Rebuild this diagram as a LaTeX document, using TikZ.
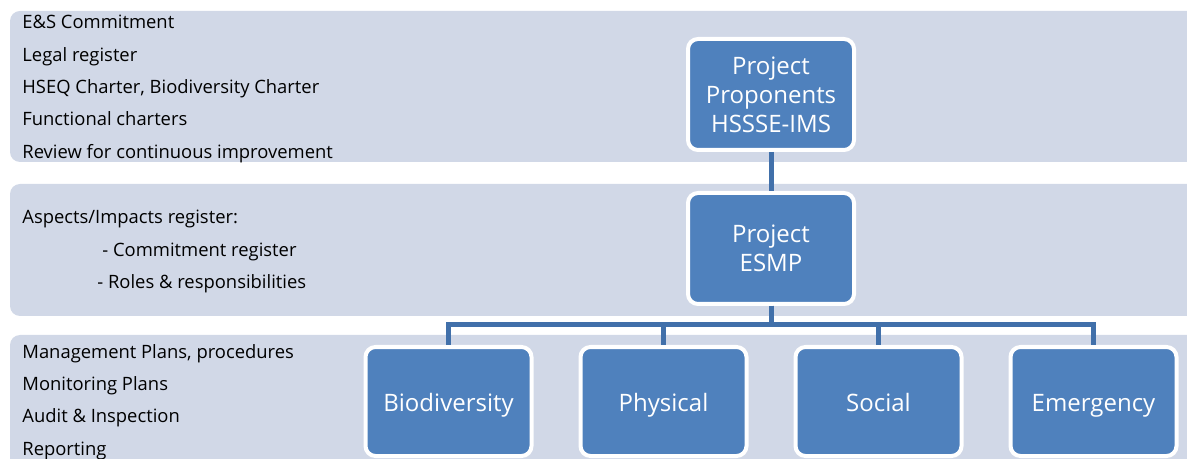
\documentclass[tikz,border=0pt]{standalone}
\usepackage{fontspec}
\setmainfont{Open Sans}
\usetikzlibrary{positioning}
\definecolor{bandfill}{HTML}{D1D8E7}
\definecolor{boxfill}{HTML}{4F81BD}
\definecolor{linkblue}{HTML}{4170AA}

\begin{document}
\begin{tikzpicture}[
  x=0.5pt, y=-0.5pt,
  node distance=19.5pt and 22.5pt,
  band/.style={fill=bandfill, rounded corners=5pt},
  notes/.style={anchor=north west, inner sep=0pt, align=left, font=\fontsize{9.2}{16.15}\selectfont},
  box/.style={draw=white, line width=2pt, fill=boxfill, rounded corners=5pt, text=white, align=center, minimum width=83pt, minimum height=55.5pt, inner sep=2pt, font=\fontsize{12}{14.5}\selectfont},
  leaf/.style={box, minimum height=54.5pt, text height=11.5pt, text depth=2pt},
  conn/.style={draw=linkblue, line width=2.5pt}
]
\useasboundingbox (0,0) rectangle (1187,459);
\clip (0,0) rectangle (1187,459);

% the three bands
\path[band] (10,11) rectangle (1210,162);
\path[band] (10,184) rectangle (1210,316);
\path[band] (10,335) rectangle (1210,490);

\node[notes] (policy) at (22,15) {E\&S Commitment\\Legal register\\HSEQ Charter, Biodiversity Charter\\Functional charters\\Review for continuous improvement};
\node[notes] (register) at (22,210) {Aspects/Impacts register:\\\hspace*{40pt}- Commitment register\\\hspace*{37.5pt}- Roles \& responsibilities};
\node[notes] (plans) at (22,344) {Management Plans, procedures\\Monitoring Plans\\Audit \& Inspection\\Reporting};

% org chart
\node[box] (prop) at (771,94.5) {Project\\Proponents\\HSSSE-IMS};
\node[box, below=of prop] (esmp) {Project\\ESMP};
\node[leaf] (bio) at (448.5,401.5) {Biodiversity};
\node[leaf, right=of bio] (phys) {Physical};
\node[leaf, right=of phys] (social) {Social};
\node[leaf, right=of social] (emerg) {Emergency};

\draw[conn] (prop) -- (esmp);
\draw[conn] (esmp.south) -- ++(0,19) -| (bio.north);
\draw[conn] (esmp.south) -- ++(0,19) -| (phys.north);
\draw[conn] (esmp.south) -- ++(0,19) -| (social.north);
\draw[conn] (esmp.south) -- ++(0,19) -| (emerg.north);
\end{tikzpicture}
\end{document}
